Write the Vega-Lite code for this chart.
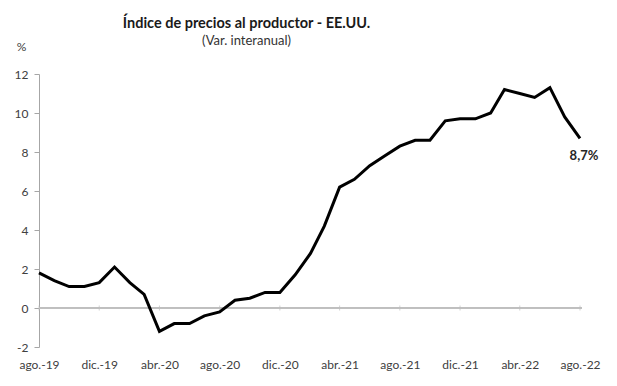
{
  "$schema": "https://vega.github.io/schema/vega-lite/v6.json",
  "width": 541,
  "height": 273,
  "autosize": {"type": "none"},
  "padding": {"left": 39, "top": 74, "right": 37, "bottom": 39},
  "background": "white",
  "config": {"view": {"stroke": null}, "font": "Lato"},
  "title": {
    "text": "Índice de precios al productor - EE.UU.",
    "subtitle": "(Var. interanual)",
    "anchor": "middle",
    "frame": "group",
    "dx": -63,
    "offset": -9,
    "fontSize": 14.5,
    "fontWeight": "bold",
    "color": "#1a1a1a",
    "subtitleFontSize": 13,
    "subtitleColor": "#333333",
    "subtitlePadding": 4
  },
  "data": {
    "values": [
      {"fecha": "2019-08-01", "valor": 1.8},
      {"fecha": "2019-09-01", "valor": 1.4},
      {"fecha": "2019-10-01", "valor": 1.1},
      {"fecha": "2019-11-01", "valor": 1.1},
      {"fecha": "2019-12-01", "valor": 1.3},
      {"fecha": "2020-01-01", "valor": 2.1},
      {"fecha": "2020-02-01", "valor": 1.3},
      {"fecha": "2020-03-01", "valor": 0.7},
      {"fecha": "2020-04-01", "valor": -1.2},
      {"fecha": "2020-05-01", "valor": -0.8},
      {"fecha": "2020-06-01", "valor": -0.8},
      {"fecha": "2020-07-01", "valor": -0.4},
      {"fecha": "2020-08-01", "valor": -0.2},
      {"fecha": "2020-09-01", "valor": 0.4},
      {"fecha": "2020-10-01", "valor": 0.5},
      {"fecha": "2020-11-01", "valor": 0.8},
      {"fecha": "2020-12-01", "valor": 0.8},
      {"fecha": "2021-01-01", "valor": 1.7},
      {"fecha": "2021-02-01", "valor": 2.8},
      {"fecha": "2021-03-01", "valor": 4.2},
      {"fecha": "2021-04-01", "valor": 6.2},
      {"fecha": "2021-05-01", "valor": 6.6},
      {"fecha": "2021-06-01", "valor": 7.3},
      {"fecha": "2021-07-01", "valor": 7.8},
      {"fecha": "2021-08-01", "valor": 8.3},
      {"fecha": "2021-09-01", "valor": 8.6},
      {"fecha": "2021-10-01", "valor": 8.6},
      {"fecha": "2021-11-01", "valor": 9.6},
      {"fecha": "2021-12-01", "valor": 9.7},
      {"fecha": "2022-01-01", "valor": 9.7},
      {"fecha": "2022-02-01", "valor": 10.0},
      {"fecha": "2022-03-01", "valor": 11.2},
      {"fecha": "2022-04-01", "valor": 11.0},
      {"fecha": "2022-05-01", "valor": 10.8},
      {"fecha": "2022-06-01", "valor": 11.3},
      {"fecha": "2022-07-01", "valor": 9.8},
      {"fecha": "2022-08-01", "valor": 8.7, "etiqueta": "8,7%"}
    ]
  },
  "encoding": {
    "x": {
      "field": "fecha",
      "type": "temporal",
      "scale": {"type": "utc", "domain": ["2019-08-01", "2022-08-01"]},
      "axis": {
        "title": null,
        "values": ["2019-08-01", "2019-12-01", "2020-04-01", "2020-08-01", "2020-12-01", "2021-04-01", "2021-08-01", "2021-12-01", "2022-04-01", "2022-08-01"],
        "labelExpr": "['ene.','feb.','mar.','abr.','may.','jun.','jul.','ago.','sep.','oct.','nov.','dic.'][utcmonth(datum.value)] + '-' + utcFormat(datum.value, '%y')",
        "domain": false,
        "ticks": false,
        "grid": false,
        "labelPadding": 12,
        "labelFontSize": 12,
        "labelColor": "#404040",
        "labelFlush": false,
        "labelOverlap": false
      }
    },
    "y": {
      "field": "valor",
      "type": "quantitative",
      "scale": {"domain": [-2, 12], "nice": false, "zero": false},
      "axis": {
        "title": "%",
        "titleAngle": 0,
        "titleX": -18,
        "titleY": -21,
        "titleAlign": "center",
        "titleFontSize": 12,
        "titleFontWeight": "normal",
        "titleColor": "#404040",
        "values": [-2, 0, 2, 4, 6, 8, 10, 12],
        "labelExpr": "replace(toString(datum.value), '−', '-')",
        "labelOverlap": false,
        "labelFlush": false,
        "grid": false,
        "domainColor": "#a6a6a6",
        "tickColor": "#a6a6a6",
        "tickSize": 5,
        "labelPadding": 6,
        "labelFontSize": 12,
        "labelColor": "#404040"
      }
    }
  },
  "layer": [
    {
      "mark": {"type": "rule", "color": "#bfbfbf", "strokeWidth": 1},
      "encoding": {"x": {"value": 0}, "x2": {"value": 543}, "y": {"datum": 0, "type": "quantitative"}}
    },
    {
      "transform": [{"filter": "utcmonth(toDate(datum.fecha)) % 4 == 3"}],
      "mark": {"type": "tick", "color": "#bfbfbf", "orient": "vertical", "size": 5, "thickness": 1},
      "encoding": {"y": {"datum": 0, "type": "quantitative"}}
    },
    {
      "mark": {"type": "line", "color": "#000000", "strokeWidth": 3, "strokeJoin": "miter"}
    },
    {
      "transform": [{"filter": "isValid(datum.etiqueta)"}],
      "mark": {"type": "text", "fontWeight": "bold", "fontSize": 13, "color": "#262626", "dx": 4, "dy": 18},
      "encoding": {
        "text": {"field": "etiqueta"}
      }
    }
  ]
}
